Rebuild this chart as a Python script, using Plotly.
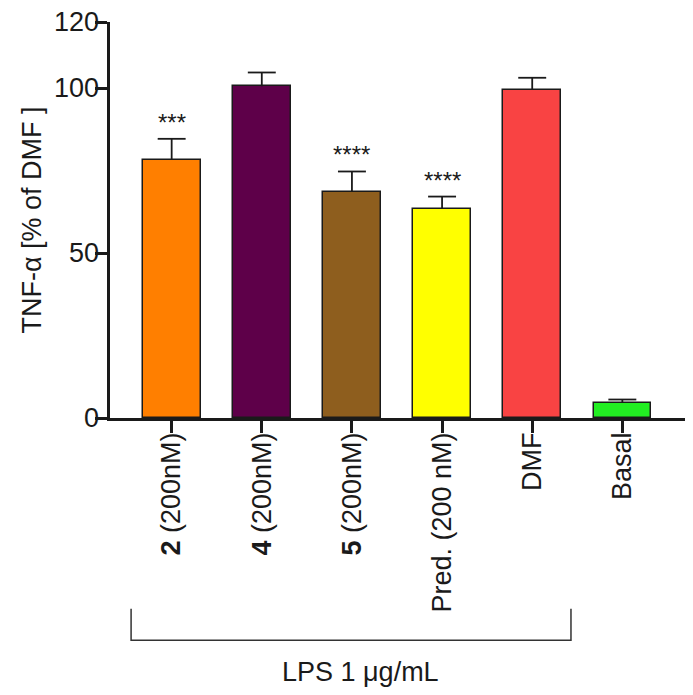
import plotly.graph_objects as go

# data
labels = ["<b>2</b> (200nM)", "<b>4</b> (200nM)", "<b>5</b> (200nM)",
          "Pred. (200 nM)", "DMF", "Basal"]
values = [78.3, 100.5, 68.6, 63.4, 99.4, 4.6]
errors = [6.3, 4.2, 6.1, 3.7, 3.7, 1.0]
stars = ["***", "", "****", "****", "", ""]
bar_colors = ["#FF7F00", "#5E0049", "#8E5E1E", "#FFFF00", "#F94343", "#22EE22"]
y_ticks = [0, 50, 100, 120]

FONT = "Liberation Sans, Arial, sans-serif"
INK = "#1a1a1a"
XR = [-0.684, 5.695]
YR = [0, 120]
CAP = 0.155  # half cap width, category units

x = list(range(len(labels)))

fig = go.Figure()
fig.add_trace(go.Bar(
    x=x, y=values, width=0.64,
    marker=dict(color=bar_colors, line=dict(color=INK, width=1.5)),
    showlegend=False, hoverinfo="skip",
))

# upper-only error whiskers (stem + cap)
ex, ey = [], []
for xi, v, e in zip(x, values, errors):
    ex += [xi, xi, None, xi - CAP, xi + CAP, None]
    ey += [v, v + e, None, v + e, v + e, None]
fig.add_trace(go.Scatter(x=ex, y=ey, mode="lines", line=dict(color=INK, width=1.8),
                         showlegend=False, hoverinfo="skip"))

# empty trace so the overlay label axes get drawn
fig.add_trace(go.Scatter(x=[None], y=[None], xaxis="x2", yaxis="y2",
                         showlegend=False, hoverinfo="skip"))

# significance stars above the error bars
for xi, v, e, s in zip(x, values, errors, stars):
    if s:
        fig.add_annotation(x=xi, y=v + e, text=s, showarrow=False,
                           yanchor="bottom", yshift=1,
                           font=dict(size=24, color=INK, family=FONT))

# LPS bracket under the first five groups
fig.add_shape(type="path", xref="x", yref="paper",
              path="M -0.45,-0.482 L -0.45,-0.561 L 4.43,-0.561 L 4.43,-0.482",
              line=dict(color="#333333", width=1.5))
fig.add_annotation(x=2.09, xref="x", y=-0.641, yref="paper", text="LPS 1 μg/mL",
                   showarrow=False, yanchor="middle",
                   font=dict(size=27, color=INK, family=FONT))

fig.update_layout(
    width=685, height=687,
    margin=dict(l=102, r=8, t=14, b=277),
    paper_bgcolor="white", plot_bgcolor="white",
    font=dict(family=FONT, color=INK, size=27),
    bargap=0,
    # main axes: lines and tick marks only
    xaxis=dict(range=XR, tickvals=x, showticklabels=False, showline=True,
               linecolor=INK, linewidth=2.5, ticks="outside", ticklen=12,
               tickwidth=2.5, tickcolor=INK, showgrid=False, zeroline=False,
               automargin=False),
    yaxis=dict(range=YR, tickvals=y_ticks, showticklabels=False, showline=True,
               linecolor=INK, linewidth=2.5, ticks="outside", ticklen=12,
               tickwidth=2.5, tickcolor=INK, showgrid=False, zeroline=False,
               automargin=False),
    # overlay axes: tick labels only
    xaxis2=dict(range=XR, overlaying="x", anchor="y2", side="bottom",
                tickmode="array", tickvals=x, ticktext=labels, tickangle=-90,
                ticks="", ticklabelstandoff=8, showline=False, showgrid=False,
                zeroline=False, tickfont=dict(size=27), automargin=False),
    yaxis2=dict(range=YR, overlaying="y", anchor="x2", side="left",
                tickvals=y_ticks, ticks="", ticklabelstandoff=10,
                ticklabeloverflow="allow", showline=False, showgrid=False,
                zeroline=False, tickfont=dict(size=27), automargin=False,
                title=dict(text="TNF-α [% of DMF ]", standoff=4,
                           font=dict(size=27))),
)

fig.write_html("out.html")
